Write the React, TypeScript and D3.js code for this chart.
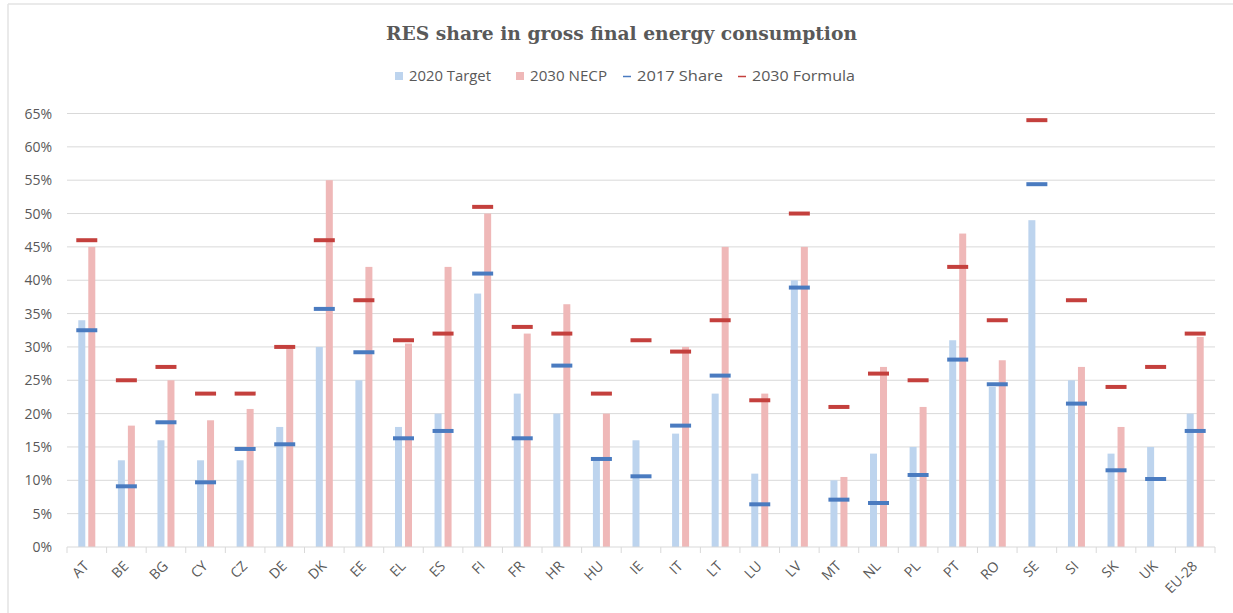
import React from "react";
import * as d3 from "d3";

const categories = ["AT","BE","BG","CY","CZ","DE","DK","EE","EL","ES","FI","FR","HR","HU","IE","IT","LT","LU","LV","MT","NL","PL","PT","RO","SE","SI","SK","UK","EU-28"];
const target2020 = [34,13,16,13,13,18,30,25,18,20,38,23,20,13,16,17,23,11,40,10,14,15,31,24,49,25,14,15,20];
const necp2030: (number | null)[] = [45,18.2,25,19,20.7,30,55,42,30.5,42,50,32,36.4,20,null,30,45,23,45,10.5,27,21,47,28,null,27,18,null,31.5];
const share2017 = [32.5,9.1,18.7,9.7,14.7,15.4,35.7,29.2,16.3,17.4,41,16.3,27.2,13.2,10.6,18.2,25.7,6.4,38.9,7.1,6.6,10.8,28.1,24.4,54.4,21.5,11.5,10.2,17.4];
const formula2030 = [46,25,27,23,23,30,46,37,31,32,51,33,32,23,31,29.3,34,22,50,21,26,25,42,34,64,37,24,27,32];
const yTicks = [0,5,10,15,20,25,30,35,40,45,50,55,60,65];

const W = 1233, H = 613;
const left = 67, right = 1215, top = 113.5, bottom = 547;
const textColor = "#595959";
const blueBar = "#bdd4ee";
const pinkBar = "#efb8b8";
const blueDash = "#4a7bc0";
const redDash = "#c4403d";
const sans = "'Open Sans', 'Liberation Sans', sans-serif";

export default function App() {
  const x = d3.scaleBand<string>().domain(categories).range([left, right]).paddingInner(0).paddingOuter(0);
  const y = d3.scaleLinear().domain([0, 65]).range([bottom, top]);
  const bw = 7;
  const cx = (c: string) => (x(c) as number) + x.bandwidth() / 2;

  const legend = [
    { label: "2020 Target", type: "sq", color: blueBar, x: 395, tx: 409, tw: 82 },
    { label: "2030 NECP", type: "sq", color: pinkBar, x: 516, tx: 530, tw: 77 },
    { label: "2017 Share", type: "dash", color: blueDash, x: 623, tx: 637, tw: 86 },
    { label: "2030 Formula", type: "dash", color: redDash, x: 738, tx: 752, tw: 103 },
  ];

  return (
    <svg width={W} height={H} style={{ position: "absolute", left: 0, top: 0, background: "#fff" }}>
      <rect x={0} y={0} width={W} height={H} fill="#fff" />
      <line x1={8} y1={4} x2={W} y2={4} stroke="#e3e3e3" strokeWidth={1.5} />
      <line x1={8} y1={4} x2={8} y2={H} stroke="#e3e3e3" strokeWidth={1.5} />
      <text x={386} y={40} textLength={471} lengthAdjust="spacingAndGlyphs" fontFamily="'DejaVu Serif', 'Liberation Serif', serif" fontWeight="bold" fontSize={18} fill={textColor}>
        RES share in gross final energy consumption
      </text>
      {legend.map((l) => (
        <g key={l.label}>
          {l.type === "sq" ? (
            <rect x={l.x} y={72} width={8} height={8} fill={l.color} />
          ) : (
            <line x1={l.x} x2={l.x + 8} y1={76.5} y2={76.5} stroke={l.color} strokeWidth={1.5} />
          )}
          <text x={l.tx} y={81} textLength={l.tw} lengthAdjust="spacingAndGlyphs" fontFamily={sans} fontSize={14} fill={textColor}>{l.label}</text>
        </g>
      ))}
      {yTicks.map((t) => (
        <g key={t}>
          {t > 0 && <line x1={left} x2={right} y1={y(t)} y2={y(t)} stroke="#d9d9d9" strokeWidth={1} />}
          <text x={52} y={y(t) + 5} textAnchor="end" fontFamily={sans} fontSize={14} fill={textColor}>{t}%</text>
        </g>
      ))}
      {categories.map((c, i) => (
        <g key={c}>
          <rect x={cx(c) - 5 - bw / 2} y={y(target2020[i])} width={bw} height={bottom - y(target2020[i])} fill={blueBar} />
          {necp2030[i] != null && (
            <rect x={cx(c) + 5 - bw / 2} y={y(necp2030[i] as number)} width={bw} height={bottom - y(necp2030[i] as number)} fill={pinkBar} />
          )}
        </g>
      ))}
      <line x1={left} x2={right} y1={bottom} y2={bottom} stroke="#d9d9d9" strokeWidth={1} />
      {categories.concat([""]).map((c, i) => {
        const xx = left + i * x.bandwidth();
        return <line key={"t" + i} x1={xx} x2={xx} y1={bottom} y2={bottom + 6} stroke="#d9d9d9" strokeWidth={1} />;
      })}
      {categories.map((c, i) => (
        <g key={"d" + c}>
          <line x1={cx(c) - 10.5} x2={cx(c) + 10.5} y1={y(share2017[i])} y2={y(share2017[i])} stroke={blueDash} strokeWidth={4} />
          <line x1={cx(c) - 10.5} x2={cx(c) + 10.5} y1={y(formula2030[i])} y2={y(formula2030[i])} stroke={redDash} strokeWidth={4} />
        </g>
      ))}
      {categories.map((c) => (
        <text key={"l" + c} transform={`translate(${cx(c) + 3},${bottom + 20}) rotate(-45)`} textAnchor="end" fontFamily={sans} fontSize={14} fill={textColor}>{c}</text>
      ))}
    </svg>
  );
}
